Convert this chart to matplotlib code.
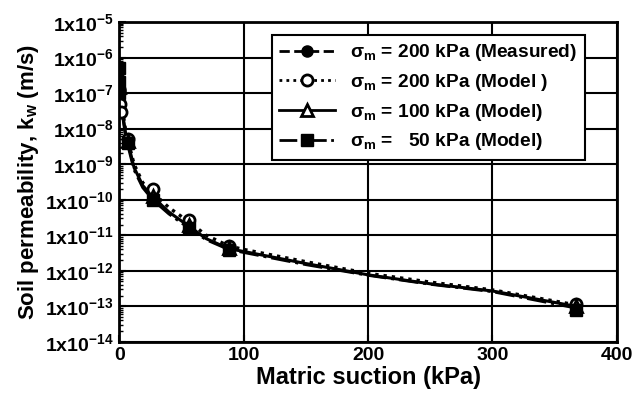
import matplotlib
matplotlib.use("Agg")
import matplotlib.pyplot as plt
from matplotlib.lines import Line2D
from matplotlib.ticker import FixedLocator, LogLocator, NullFormatter

plt.rcParams['font.family'] = ['Liberation Sans', 'DejaVu Sans']
plt.rcParams['font.weight'] = 'bold'
plt.rcParams['mathtext.fontset'] = 'custom'
plt.rcParams['mathtext.rm'] = 'Liberation Sans:bold'
plt.rcParams['mathtext.bf'] = 'Liberation Sans:bold'
plt.rcParams['mathtext.it'] = 'Liberation Sans:bold'
plt.rcParams['mathtext.default'] = 'bf'

# ---- data ----
# measured sigma_m = 200 kPa
meas_x = [0, 0.5, 1, 1.5, 7, 27, 56, 88, 367]
meas_k = [2.5e-7, 1.2e-7, 5e-8, 3e-8, 5e-9, 2e-10, 2.5e-11, 5e-12, 1.2e-13]
# model sigma_m = 200 kPa
m200_mx = [0, 1, 1.5, 7, 27, 56, 88, 367]
m200_mk = [1e-7, 5e-8, 3e-8, 5e-9, 2e-10, 2.6e-11, 5e-12, 1.2e-13]
m200_cx = [0, 2, 5, 8, 12, 19, 27, 40, 56, 70, 88, 100, 150, 200, 250, 300, 367]
m200_ck = [3e-7, 5e-8, 1e-8, 3.5e-9, 1e-9, 3e-10, 1.6e-10, 6e-11, 2.4e-11, 1e-11,
           5e-12, 4e-12, 1.8e-12, 8.5e-13, 4.8e-13, 2.9e-13, 1.1e-13]
# model sigma_m = 100 kPa
m100_mx = [0, 7, 27, 56, 88, 367]
m100_mk = [1.5e-7, 4.5e-9, 1.3e-10, 2e-11, 4.5e-12, 1e-13]
m100_cx = [0, 2, 5, 8, 12, 19, 27, 40, 56, 70, 88, 100, 150, 200, 250, 300, 367]
m100_ck = [2.5e-7, 4e-8, 8e-9, 3e-9, 8e-10, 2.5e-10, 1.2e-10, 4.5e-11, 1.8e-11, 8e-12,
           4.2e-12, 3.5e-12, 1.6e-12, 7.7e-13, 4.3e-13, 2.7e-13, 1e-13]
# model sigma_m = 50 kPa
m50_mx = [0, 0, 0, 7, 27, 56, 88, 367]
m50_mk = [5e-7, 2e-7, 1e-7, 4e-9, 1e-10, 1.6e-11, 3.8e-12, 8e-14]
m50_cx = [0, 2, 5, 8, 12, 19, 27, 40, 56, 70, 88, 100, 150, 200, 250, 300, 367]
m50_ck = [2e-7, 3.5e-8, 7e-9, 2.5e-9, 7e-10, 2.2e-10, 1e-10, 4e-11, 1.6e-11, 7.5e-12,
          4e-12, 3.3e-12, 1.5e-12, 7.5e-13, 4.2e-13, 2.6e-13, 9e-14]

xticks = [0, 100, 200, 300, 400]
yexp = list(range(-14, -4))

legend_labels = ['σ$_m$ = 200 kPa (Measured)', 'σ$_m$ = 200 kPa (Model )',
                 'σ$_m$ = 100 kPa (Model)', 'σ$_m$ =   50 kPa (Model)']

fig = plt.figure(figsize=(6.44, 4.07), dpi=100)
ax = fig.add_axes([0.185, 0.16, 0.773, 0.786])

ax.set_yscale('log')
ax.set_xlim(0, 400)
ax.set_ylim(1e-14, 1e-5)

ax.plot(m200_cx, m200_ck, color='black', ls=(0, (1, 1.5)), lw=2.4)
ax.plot(m100_cx, m100_ck, color='black', ls='-', lw=2.2)
ax.plot(m50_cx, m50_ck, color='black', ls='-.', lw=2.2)
ax.plot(meas_x, meas_k, color='black', ls='none', marker='o', ms=8)
ax.plot(m200_mx, m200_mk, color='black', ls='none', marker='o', ms=8, mfc='white', mew=2)
ax.plot(m100_mx, m100_mk, color='black', ls='none', marker='^', ms=8, mfc='white', mew=2)
ax.plot(m50_mx, m50_mk, color='black', ls='none', marker='s', ms=8)

ax.set_xticks(xticks)
ax.set_xticklabels([str(v) for v in xticks])
ax.yaxis.set_major_locator(FixedLocator([10.0 ** e for e in yexp]))
ax.set_yticklabels(['1x10$^{%d}$' % e for e in yexp])
ax.yaxis.set_minor_locator(LogLocator(base=10, subs=range(2, 10), numticks=30))
ax.yaxis.set_minor_formatter(NullFormatter())

ax.grid(True, which='major', color='black', lw=1.5)
ax.tick_params(axis='both', which='major', direction='in', length=5, width=1.5,
               labelsize=14, pad=4)
ax.tick_params(axis='y', which='minor', direction='in', length=3, width=1)
for s in ax.spines.values():
    s.set_linewidth(2)

for lab in ax.get_xticklabels() + ax.get_yticklabels():
    lab.set_fontweight('bold')

ax.set_xlabel('Matric suction (kPa)', fontsize=17, fontweight='bold', labelpad=1)
ax.set_ylabel('Soil permeability, k$_w$ (m/s)', fontsize=16, fontweight='bold', labelpad=3)

handles = [
    Line2D([], [], color='black', ls='--', lw=2, marker='o', ms=8),
    Line2D([], [], color='black', ls=(0, (1, 1.5)), lw=2, marker='o', ms=8, mfc='white', mew=2),
    Line2D([], [], color='black', ls='-', lw=2, marker='^', ms=8, mfc='white', mew=2),
    Line2D([], [], color='black', ls='-.', lw=2, marker='s', ms=8),
]
leg = ax.legend(handles, legend_labels, loc='upper right', bbox_to_anchor=(0.936, 0.96),
                borderaxespad=0, fontsize=13.8, frameon=True, fancybox=False,
                edgecolor='black', framealpha=1, handlelength=2.9, handletextpad=0.8,
                borderpad=0.4, labelspacing=0.45)
leg.get_frame().set_linewidth(1.5)
for t in leg.get_texts():
    t.set_fontweight('bold')

fig.savefig('out.png', dpi=100)
